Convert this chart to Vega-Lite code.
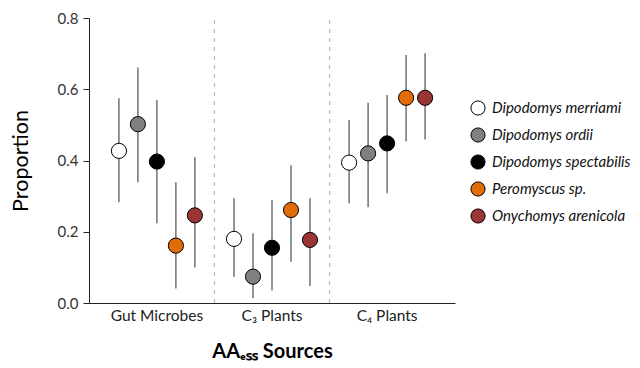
{
  "$schema": "https://vega.github.io/schema/vega-lite/v6.json",
  "width": 366,
  "height": 285,
  "autosize": {"type": "none"},
  "padding": {"left": 89, "top": 18, "right": 185, "bottom": 65},
  "background": "white",
  "config": {
    "view": {"stroke": null},
    "font": "Lato",
    "axis": {"grid": false, "domainColor": "#222222", "tickColor": "#222222", "labelFont": "Lato", "titleFont": "Lato"}
  },
  "datasets": {
    "est": [
      {"source": "Gut Microbes", "species": "Dipodomys merriami", "mean": 0.427, "lower": 0.283, "upper": 0.575},
      {"source": "Gut Microbes", "species": "Dipodomys ordii", "mean": 0.502, "lower": 0.339, "upper": 0.661},
      {"source": "Gut Microbes", "species": "Dipodomys spectabilis", "mean": 0.397, "lower": 0.224, "upper": 0.570},
      {"source": "Gut Microbes", "species": "Peromyscus sp.", "mean": 0.161, "lower": 0.041, "upper": 0.339},
      {"source": "Gut Microbes", "species": "Onychomys arenicola", "mean": 0.246, "lower": 0.100, "upper": 0.409},
      {"source": "C₃ Plants", "species": "Dipodomys merriami", "mean": 0.180, "lower": 0.074, "upper": 0.294},
      {"source": "C₃ Plants", "species": "Dipodomys ordii", "mean": 0.074, "lower": 0.013, "upper": 0.196},
      {"source": "C₃ Plants", "species": "Dipodomys spectabilis", "mean": 0.155, "lower": 0.035, "upper": 0.289},
      {"source": "C₃ Plants", "species": "Peromyscus sp.", "mean": 0.261, "lower": 0.116, "upper": 0.387},
      {"source": "C₃ Plants", "species": "Onychomys arenicola", "mean": 0.177, "lower": 0.048, "upper": 0.294},
      {"source": "C₄ Plants", "species": "Dipodomys merriami", "mean": 0.394, "lower": 0.280, "upper": 0.514},
      {"source": "C₄ Plants", "species": "Dipodomys ordii", "mean": 0.420, "lower": 0.269, "upper": 0.562},
      {"source": "C₄ Plants", "species": "Dipodomys spectabilis", "mean": 0.448, "lower": 0.308, "upper": 0.584},
      {"source": "C₄ Plants", "species": "Peromyscus sp.", "mean": 0.576, "lower": 0.453, "upper": 0.696},
      {"source": "C₄ Plants", "species": "Onychomys arenicola", "mean": 0.576, "lower": 0.459, "upper": 0.701}
    ],
    "dividers": [
      {"source": "C₃ Plants"},
      {"source": "C₄ Plants"}
    ]
  },
  "layer": [
    {
      "data": {"name": "dividers"},
      "mark": {"type": "rule", "stroke": "#bbbbbb", "strokeWidth": 1.2, "strokeDash": [4, 5]},
      "encoding": {
        "x": {"field": "source", "type": "nominal", "bandPosition": 0},
        "y": {"datum": 0, "type": "quantitative"},
        "y2": {"datum": 0.8}
      }
    },
    {
      "data": {"name": "est"},
      "mark": {"type": "rule", "stroke": "#5a5a5a", "strokeWidth": 1.3},
      "encoding": {
        "x": {"field": "source", "type": "nominal"},
        "xOffset": {
          "field": "species",
          "type": "nominal",
          "scale": {
            "domain": ["Dipodomys merriami", "Dipodomys ordii", "Dipodomys spectabilis", "Peromyscus sp.", "Onychomys arenicola"],
            "paddingInner": 0,
            "paddingOuter": 0.53
          }
        },
        "y": {"field": "lower", "type": "quantitative"},
        "y2": {"field": "upper"}
      }
    },
    {
      "data": {"name": "est"},
      "mark": {"type": "point", "shape": "circle", "filled": true, "size": 230, "stroke": "black", "strokeWidth": 1, "opacity": 1},
      "encoding": {
        "x": {"field": "source", "type": "nominal"},
        "xOffset": {"field": "species", "type": "nominal"},
        "y": {"field": "mean", "type": "quantitative"},
        "fill": {
          "field": "species",
          "type": "nominal",
          "scale": {
            "domain": ["Dipodomys merriami", "Dipodomys ordii", "Dipodomys spectabilis", "Peromyscus sp.", "Onychomys arenicola"],
            "range": ["#ffffff", "#808080", "#000000", "#e36c0a", "#9a3535"]
          },
          "legend": {
            "title": null,
            "orient": "none",
            "legendX": 381,
            "legendY": 82,
            "symbolType": "circle",
            "symbolSize": 200,
            "symbolStrokeColor": "black",
            "symbolStrokeWidth": 1,
            "symbolOpacity": 1,
            "labelFontSize": 15,
            "labelFontStyle": "italic",
            "labelFont": "Lato",
            "labelColor": "#111111",
            "rowPadding": 7,
            "labelOffset": 6
          }
        }
      }
    }
  ],
  "encoding": {
    "x": {
      "field": "source",
      "type": "nominal",
      "scale": {"domain": ["Gut Microbes", "C₃ Plants", "C₄ Plants"], "paddingInner": 0, "paddingOuter": 0.09},
      "axis": {
        "title": "AAₑₛₛ Sources",
        "titleFontSize": 20,
        "titleFontWeight": "bold",
        "titleColor": "#000000",
        "titlePadding": 18,
        "labelAngle": 0,
        "labelFontSize": 15.5,
        "labelColor": "#222222",
        "labelPadding": 5,
        "ticks": false
      }
    },
    "y": {
      "type": "quantitative",
      "scale": {"domain": [0, 0.8], "nice": false, "zero": true},
      "axis": {
        "title": "Proportion",
        "titleFontSize": 21.5,
        "titleFontWeight": "normal",
        "titleColor": "#000000",
        "titlePadding": 25,
        "values": [0, 0.2, 0.4, 0.6, 0.8],
        "format": ".1f",
        "labelFontSize": 15,
        "labelColor": "#333333",
        "labelPadding": 5,
        "tickSize": 6
      }
    }
  }
}
